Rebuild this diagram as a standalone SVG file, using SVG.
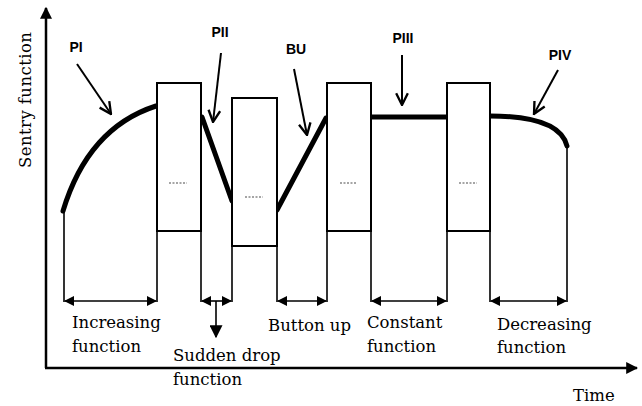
<svg xmlns="http://www.w3.org/2000/svg" width="642" height="406" viewBox="0 0 642 406">
<defs>
<marker id="fa" viewBox="0 0 10 10" refX="9" refY="5" markerWidth="10" markerHeight="10" markerUnits="userSpaceOnUse" orient="auto-start-reverse"><path d="M0,0 L10,5 L0,10 Z" fill="#000"/></marker>
<marker id="ax" viewBox="0 0 10 10" refX="9" refY="5" markerWidth="12" markerHeight="12" markerUnits="userSpaceOnUse" orient="auto"><path d="M0,0 L10,5 L0,10 Z" fill="#000"/></marker>
<marker id="dn" viewBox="0 0 10 10" refX="9" refY="5" markerWidth="13" markerHeight="13" markerUnits="userSpaceOnUse" orient="auto"><path d="M0,0 L10,5 L0,10 Z" fill="#000"/></marker>
<marker id="op" viewBox="0 0 12 12" refX="11" refY="6" markerWidth="14" markerHeight="14" markerUnits="userSpaceOnUse" orient="auto"><path d="M1,1 L11,6 L1,11" fill="none" stroke="#000" stroke-width="2"/></marker>
</defs>
<style>
.box{fill:#fff;stroke:#000;stroke-width:2}
.thin{stroke:#000;stroke-width:1.6;fill:none}
.curve{stroke:#000;stroke-width:5;fill:none;stroke-linecap:round}
.ptr{stroke:#000;stroke-width:2;fill:none}
.dots{stroke:#888;stroke-width:1.5;stroke-dasharray:2 1.5}
.lab{font-family:"Liberation Sans",Arial,sans-serif;font-weight:bold;font-size:14px;text-anchor:middle}
.cap{font-family:"DejaVu Serif","Liberation Serif",serif;font-size:16.5px}
</style>
<g id="axes">
<line x1="46" y1="368" x2="46" y2="8" stroke="#000" stroke-width="2.5" marker-end="url(#ax)"/>
<line x1="45" y1="368" x2="637" y2="368" stroke="#000" stroke-width="2.5" marker-end="url(#ax)"/>
<text class="cap" transform="translate(31,100) rotate(-90)" text-anchor="middle" textLength="136" font-size="17">Sentry function</text>
<text class="cap" x="573" y="401">Time</text>
</g>
<g id="connectors">
<line class="thin" x1="64" y1="212" x2="64" y2="302"/>
<line class="thin" x1="157" y1="231" x2="157" y2="302"/>
<line class="thin" x1="201" y1="231" x2="201" y2="302"/>
<line class="thin" x1="232" y1="246" x2="232" y2="302"/>
<line class="thin" x1="277" y1="246" x2="277" y2="302"/>
<line class="thin" x1="327" y1="231" x2="327" y2="302"/>
<line class="thin" x1="371" y1="231" x2="371" y2="302"/>
<line class="thin" x1="447" y1="231" x2="447" y2="302"/>
<line class="thin" x1="490" y1="231" x2="490" y2="302"/>
<line class="thin" x1="567" y1="147" x2="567" y2="302"/>
<line class="thin" x1="65" y1="301" x2="156" y2="301" marker-start="url(#fa)" marker-end="url(#fa)"/>
<line class="thin" x1="202" y1="301" x2="231" y2="301" marker-start="url(#fa)" marker-end="url(#fa)"/>
<line class="thin" x1="216" y1="301" x2="216" y2="337" marker-end="url(#dn)"/>
<line class="thin" x1="278" y1="301" x2="326" y2="301" marker-start="url(#fa)" marker-end="url(#fa)"/>
<line class="thin" x1="372" y1="301" x2="446" y2="301" marker-start="url(#fa)" marker-end="url(#fa)"/>
<line class="thin" x1="491" y1="301" x2="566" y2="301" marker-start="url(#fa)" marker-end="url(#fa)"/>
<path class="ptr" d="M77,64 L111,114" marker-end="url(#op)"/>
<path class="ptr" d="M221,53 L213,122" marker-end="url(#op)"/>
<path class="ptr" d="M294,69 L307,135" marker-end="url(#op)"/>
<path class="ptr" d="M402,55 L402,105" marker-end="url(#op)"/>
<path class="ptr" d="M558,70 L534,114" marker-end="url(#op)"/>
</g>
<g id="curves">
<path class="curve" d="M63,211 Q88,128 156,106"/>
<path class="curve" d="M202,117 L232,201"/>
<path class="curve" d="M277,210 L326,118"/>
<path class="curve" d="M371,117 L447,117"/>
<path class="curve" d="M490,116 C535,116 562,126 567,146"/>
</g>
<g id="box1"><rect class="box" x="157" y="83" width="44" height="148"/><line class="dots" x1="169" y1="183" x2="187" y2="183"/></g>
<g id="box2"><rect class="box" x="232" y="98" width="45" height="148"/><line class="dots" x1="245" y1="197" x2="263" y2="197"/></g>
<g id="box3"><rect class="box" x="327" y="83" width="44" height="148"/><line class="dots" x1="340" y1="183" x2="357" y2="183"/></g>
<g id="box4"><rect class="box" x="447" y="83" width="43" height="148"/><line class="dots" x1="459" y1="183" x2="477" y2="183"/></g>
<g id="labels">
<text class="lab" x="76" y="52">PI</text>
<text class="lab" x="220" y="37">PII</text>
<text class="lab" x="296" y="54">BU</text>
<text class="lab" x="403" y="43">PIII</text>
<text class="lab" x="560" y="60">PIV</text>
</g>
<g id="captions">
<text class="cap" x="72" y="328">Increasing</text>
<text class="cap" x="72" y="352">function</text>
<text class="cap" x="173" y="361">Sudden drop</text>
<text class="cap" x="173" y="385">function</text>
<text class="cap" x="268" y="331">Button up</text>
<text class="cap" x="367" y="328">Constant</text>
<text class="cap" x="367" y="352">function</text>
<text class="cap" x="497" y="330">Decreasing</text>
<text class="cap" x="497" y="353">function</text>
</g>
</svg>
